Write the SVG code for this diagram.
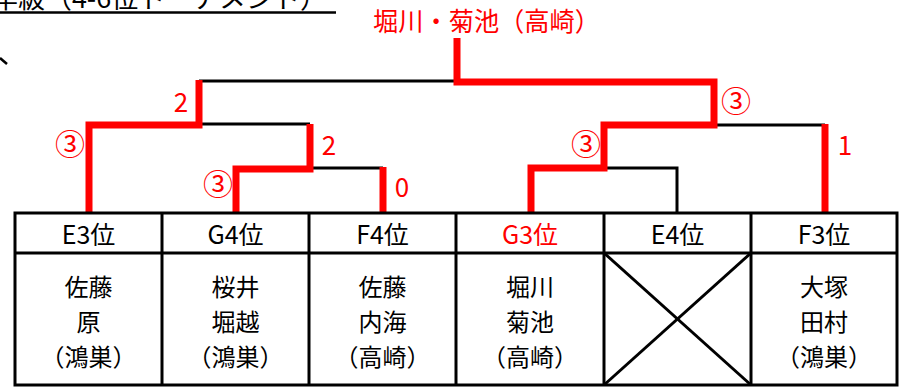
<svg xmlns="http://www.w3.org/2000/svg" width="910" height="387" viewBox="0 0 910 387">
<style>
.t{font-family:"Noto Sans CJK JP","Noto Sans",sans-serif;}
.hd{font-size:25px;fill:#000;text-anchor:middle;}
.bd{font-size:24px;fill:#000;text-anchor:middle;}
.sc{font-size:26px;fill:#ff0000;text-anchor:middle;}
.ci{font-size:30px;fill:#ff0000;text-anchor:middle;}
.blk{fill:none;stroke:#000;stroke-width:3;}
.red{fill:none;stroke:#ff0000;stroke-width:7;stroke-linejoin:miter;stroke-linecap:butt;}
.grid{fill:none;stroke:#000;stroke-width:3;}
</style>
<rect width="910" height="387" fill="#fff"/>
<g id="title-left">
<text class="t" x="-36" y="8" font-size="26" textLength="363" lengthAdjust="spacingAndGlyphs">学年級（4-6位トーナメント）</text>
<line x1="0" y1="12.5" x2="336" y2="12.5" stroke="#000" stroke-width="2.5"/>
<line x1="0" y1="58" x2="7" y2="64" stroke="#000" stroke-width="2.5"/>
</g>
<g id="winner">
<text class="t" x="373" y="31" font-size="26" fill="#ff0000" textLength="227" lengthAdjust="spacingAndGlyphs">堀川・菊池（高崎）</text>
</g>
<g id="connectors">
<polyline class="blk" points="199,81 457,81"/>
<polyline class="blk" points="199,124 310,124"/>
<polyline class="blk" points="310,168 383,168"/>
<polyline class="blk" points="714,125 825,125"/>
<polyline class="blk" points="604,168 677,168 677,213"/>
<polyline class="red" points="89,213 89,125 199,125 199,80"/>
<polyline class="red" points="236,213 236,169 310,169 310,124"/>
<polyline class="red" points="383,213 383,167"/>
<polyline class="red" points="457,38 457,82 714,82 714,125 604,125 604,168 531,168 531,213"/>
<polyline class="red" points="825,213 825,124"/>
</g>
<g id="scores">
<text class="t sc" x="181" y="112">2</text>
<text class="t ci" x="70" y="155">③</text>
<text class="t sc" x="329" y="155">2</text>
<text class="t ci" x="218" y="195">③</text>
<text class="t sc" x="402" y="197">0</text>
<text class="t ci" x="736" y="112">③</text>
<text class="t ci" x="586" y="155">③</text>
<text class="t sc" x="845" y="155">1</text>
</g>
<g id="table">
<rect class="grid" x="15" y="213" width="882" height="172"/>
<line class="grid" x1="15" y1="253" x2="897" y2="253"/>
<line class="grid" x1="162" y1="213" x2="162" y2="385"/>
<line class="grid" x1="309" y1="213" x2="309" y2="385"/>
<line class="grid" x1="456" y1="213" x2="456" y2="385"/>
<line class="grid" x1="604" y1="213" x2="604" y2="385"/>
<line class="grid" x1="751" y1="213" x2="751" y2="385"/>
</g>
<g id="node-e3">
<text class="t hd" x="88.5" y="244">E3位</text>
<text class="t bd" x="88.5" y="296">佐藤</text>
<text class="t bd" x="88.5" y="331">原</text>
<text class="t bd" x="88.5" y="366">（鴻巣）</text>
</g>
<g id="node-g4">
<text class="t hd" x="235.5" y="244">G4位</text>
<text class="t bd" x="235.5" y="296">桜井</text>
<text class="t bd" x="235.5" y="331">堀越</text>
<text class="t bd" x="235.5" y="366">（鴻巣）</text>
</g>
<g id="node-f4">
<text class="t hd" x="382.5" y="244">F4位</text>
<text class="t bd" x="382.5" y="296">佐藤</text>
<text class="t bd" x="382.5" y="331">内海</text>
<text class="t bd" x="382.5" y="366">（高崎）</text>
</g>
<g id="node-g3">
<text class="t hd" x="530" y="244" style="fill:#ff0000">G3位</text>
<text class="t bd" x="530" y="296">堀川</text>
<text class="t bd" x="530" y="331">菊池</text>
<text class="t bd" x="530" y="366">（高崎）</text>
</g>
<g id="node-e4">
<text class="t hd" x="677.5" y="244">E4位</text>
<line class="grid" x1="604" y1="253" x2="751" y2="385"/>
<line class="grid" x1="751" y1="253" x2="604" y2="385"/>
</g>
<g id="node-f3">
<text class="t hd" x="824" y="244">F3位</text>
<text class="t bd" x="824" y="296">大塚</text>
<text class="t bd" x="824" y="331">田村</text>
<text class="t bd" x="824" y="366">（鴻巣）</text>
</g>
</svg>
